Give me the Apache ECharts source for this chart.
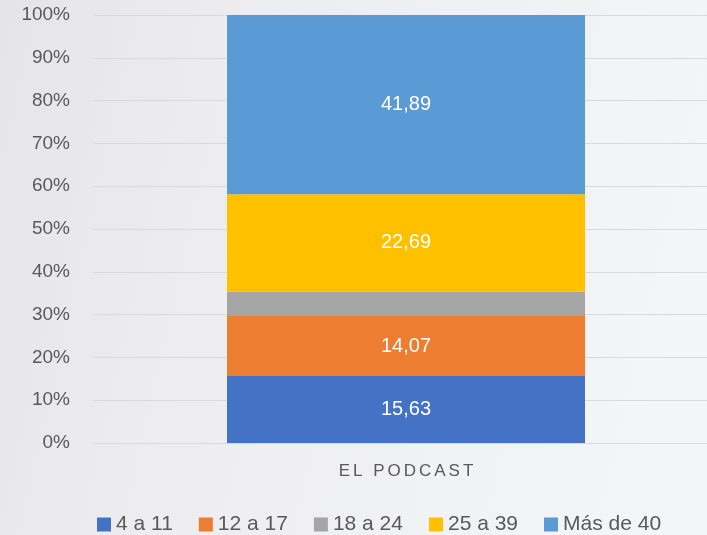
<!DOCTYPE html>
<html><head><meta charset="utf-8">
<script src="https://cdn.jsdelivr.net/npm/echarts@6/dist/echarts.min.js"></script>
<style>html,body{margin:0;padding:0;}#c{width:707px;height:535px;}</style>
</head><body><div id="c"></div>
<script>
const categories = ['EL PODCAST'];
const seriesNames = ['4 a 11', '12 a 17', '18 a 24', '25 a 39', 'Más de 40'];
const v4a11 = [15.63];
const v12a17 = [14.07];
const v18a24 = [5.72];
const v25a39 = [22.69];
const vMas40 = [41.89];
const yTicks = [0, 10, 20, 30, 40, 50, 60, 70, 80, 90, 100];
const colors = ['#4472c4', '#ed7d31', '#a5a5a5', '#ffc000', '#5b9bd5'];
const allValues = [v4a11, v12a17, v18a24, v25a39, vMas40];
const showLabel = [true, true, false, true, true];

const chart = echarts.init(document.getElementById('c'), null, {renderer: 'canvas'});
const font = 'Liberation Sans, sans-serif';
chart.setOption({
  backgroundColor: {
    type: 'linear', x: 0, y: 0, x2: 1, y2: 0.3,
    colorStops: [{offset: 0, color: '#e5e5e7'}, {offset: 0.35, color: '#ededef'}, {offset: 1, color: '#f4f5f7'}]
  },
  animation: false,
  textStyle: {fontFamily: font},
  grid: {left: 93, top: 15, width: 626, height: 428, containLabel: false, outerBoundsMode: 'none'},
  legend: {
    top: 509, left: 92, itemWidth: 14, itemHeight: 14, itemGap: 26,
    icon: 'rect',
    textStyle: {fontSize: 21, color: '#595959', fontFamily: font},
    data: seriesNames
  },
  xAxis: {
    type: 'category', data: categories,
    axisLine: {show: false}, axisTick: {show: false},
    axisLabel: {
      margin: 20, color: '#595959',
      formatter: v => v.split('').map(ch => '{l|' + ch + '}').join(''),
      rich: {l: {fontSize: 17, color: '#595959', fontFamily: font, padding: [0, 1.5, 0, 1.5]}}
    }
  },
  yAxis: {
    type: 'value', min: yTicks[0], max: yTicks[yTicks.length - 1], interval: 10,
    axisLabel: {formatter: '{value}%', fontSize: 19, color: '#595959', margin: 23, fontFamily: font},
    splitLine: {lineStyle: {color: '#d9d9d9', width: 1}},
    axisLine: {show: false}, axisTick: {show: false}
  },
  series: seriesNames.map((name, i) => ({
    name, type: 'bar', stack: 'total', barWidth: 358,
    itemStyle: {color: colors[i]},
    label: {
      show: showLabel[i], position: 'inside', color: '#ffffff', fontSize: 20, fontFamily: font,
      formatter: p => p.value.toFixed(2).replace('.', ',')
    },
    data: allValues[i]
  }))
});
</script></body></html>
